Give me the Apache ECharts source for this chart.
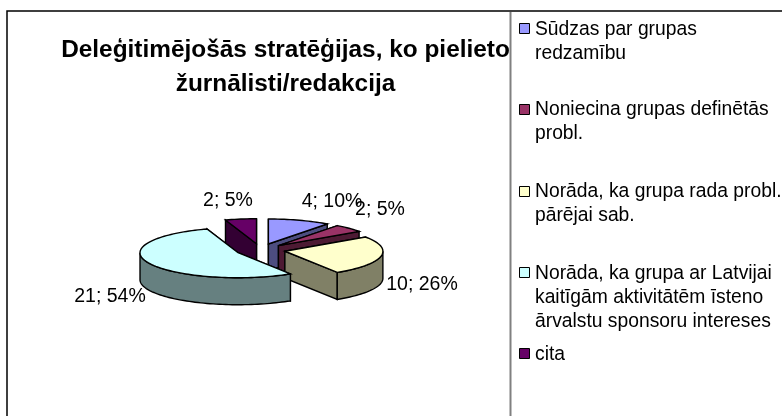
<!DOCTYPE html>
<html><head><meta charset="utf-8">
<style>html,body{margin:0;padding:0;background:#fff}#c{width:782px;height:416px}</style>
<script src="https://cdn.jsdelivr.net/npm/echarts@6/dist/echarts.min.js"></script>
</head><body><div id="c"></div>
<script>
const titleText = 'Deleģitimējošās stratēģijas, ko pielieto\nžurnālisti/redakcija';
const categories = ['Sūdzas par grupas\nredzamību','Noniecina grupas definētās\nprobl.','Norāda, ka grupa rada probl.\npārējai sab.','Norāda, ka grupa ar Latvijai\nkaitīgām aktivitātēm īsteno\nārvalstu sponsoru intereses','cita'];
const values = [4,2,10,21,2];
const percents = [10,5,26,54,5];
const topColors = ['#9999FF','#993366','#FFFFCC','#CCFFFF','#660066'];
const wallColors = ['#4D4D80','#4D1A33','#808066','#668080','#330033'];
const drawOrder = [1,2,3,4,0];
const labelPos = [[332,202],[380,210],[422,285],[110,297],[228,201]];
const legendTops = [18,98,180,262,343];
const swatchTops = [24,105,187,268,349];

const total = values.reduce((a,b)=>a+b,0);
const cx=260.5, cy=250, rx=98, ry=25, depth=27, explode=0.254;
const starts=[]; let acc=0; values.forEach(v=>{starts.push(acc/total*Math.PI*2);acc+=v;});
const pt=(o,a,r=1)=>[o[0]+Math.sin(a)*rx*r,o[1]-Math.cos(a)*ry*r];
const down=p=>[p[0],p[1]+depth];

function renderItem(params, api){
  const i=params.dataIndex, v=api.value(0);
  const a0=starts[i], a1=a0+v/total*Math.PI*2, mid=(a0+a1)/2;
  const o=pt([cx,cy],mid,explode);
  const arc=(s,e)=>{const n=Math.max(2,Math.ceil((e-s)*30)),r=[];for(let k=0;k<=n;k++)r.push(pt(o,s+(e-s)*k/n));return r;};
  const kids=[];
  const poly=(points,fill)=>kids.push({type:'polygon',z2:drawOrder[i]*10+kids.length,shape:{points},style:{fill,stroke:'#000',lineWidth:1.4}});
  const wall=wallColors[i];
  [a0,a1].map(a=>pt(o,a)).sort((p,q)=>p[1]-q[1]).forEach(p=>poly([o,p,down(p),down(o)],wall));
  const fs=Math.max(a0,Math.PI/2), fe=Math.min(a1,Math.PI*1.5);
  if(fe>fs){const t=arc(fs,fe);poly(t.concat(t.slice().reverse().map(down)),wall);}
  poly([o].concat(arc(a0,a1)),topColors[i]);
  return {type:'group',children:kids};
}

const graphics=[
  {type:'rect',shape:{x:7,y:11,width:790,height:420},style:{fill:'#fff',stroke:'#000',lineWidth:1.5},z:-1},
  {type:'rect',shape:{x:509.5,y:12,width:2,height:404},style:{fill:'#808080'}}
];
categories.forEach((c,i)=>{
  graphics.push({type:'rect',shape:{x:519.5,y:swatchTops[i]-0.5,width:10,height:10},style:{fill:topColors[i],stroke:'#000',lineWidth:1}});
  graphics.push({type:'text',x:535,y:legendTops[i],style:{text:c,fill:'#000',font:'19.3px "Liberation Sans"',lineHeight:24,textAlign:'left',textVerticalAlign:'top'}});
});
values.forEach((v,i)=>{
  graphics.push({type:'text',x:labelPos[i][0],y:labelPos[i][1],z:10,style:{text:v+'; '+percents[i]+'%',fill:'#000',font:'19.5px "Liberation Sans"',textAlign:'center',textVerticalAlign:'middle'}});
});

const chart=echarts.init(document.getElementById('c'),null,{renderer:'canvas'});
chart.setOption({
  animation:false,
  backgroundColor:'#fff',
  title:{text:titleText,left:280.5,top:28,textAlign:'center',textStyle:{fontFamily:'Liberation Sans',fontWeight:'bold',fontSize:24.4,color:'#000',lineHeight:34}},
  series:[{type:'custom',coordinateSystem:'none',renderItem,data:values.map(v=>[v]),silent:true,z:5}],
  graphic:graphics
});
</script></body></html>
